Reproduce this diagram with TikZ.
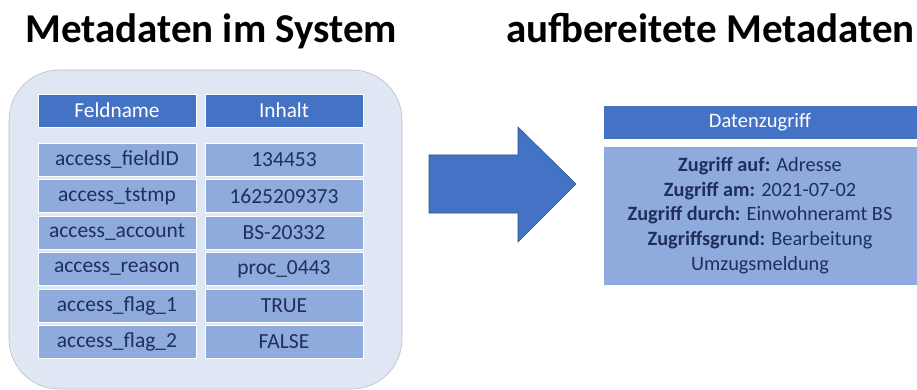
\documentclass[tikz,border=0pt]{standalone}
\usepackage{fontspec}
\setmainfont{Carlito}
\definecolor{hdrblue}{HTML}{4472C4}
\definecolor{cellblue}{HTML}{8FAADC}
\definecolor{panelblue}{HTML}{DEE7F3}
\definecolor{navytext}{HTML}{1F2F5C}
\definecolor{arrowedge}{HTML}{2F528F}
\tikzset{
  title/.style={anchor=base west, inner sep=0pt, font=\fontsize{41}{48}\selectfont\bfseries, text=black},
  hdrcell/.style={draw=white, line width=0.6pt, fill=hdrblue, minimum width=158pt, minimum height=33pt,
    inner sep=0pt, text=white, font=\fontsize{21.3}{25}\selectfont},
  datacell/.style={draw=white, line width=0.6pt, fill=cellblue, minimum width=158pt, minimum height=33pt,
    inner sep=0pt, text=navytext, font=\fontsize{21.5}{25}\selectfont},
  panel/.style={draw=black!25, line width=0.6pt, fill=panelblue, rounded corners=50pt},
  bigarrow/.style={draw=arrowedge, line width=0.6pt, fill=hdrblue},
}
\begin{document}
\begin{tikzpicture}[x=1pt,y=-1pt]
\useasboundingbox (0,0) rectangle (917,390);

% titles
\node[title] (t1) at (25,43) {Metadaten im System};
\node[title] (t2) at (506,43) {aufbereitete Metadaten};

% rounded panel holding the raw field table
\draw[panel] (9,70) rectangle (402,389);

% table header
\node[hdrcell] (h1) at (117,110.5) {Feldname};
\node[hdrcell] (h2) at (284,110.5) {Inhalt};

% table rows
\foreach \i/\name/\val in {0/access\_fieldID/134453, 1/access\_tstmp/1625209373,
    2/access\_account/BS-20332, 3/access\_reason/proc\_0443,
    4/access\_flag\_1/TRUE, 5/access\_flag\_2/FALSE}{
  \node[datacell] (f\i) at (117,{159.5+36.5*\i}) {\name};
  \node[datacell] (v\i) at (284,{159.5+36.5*\i}) {\val};
}

% block arrow
\draw[bigarrow] (429,155) -- (518,155) -- (518,127) -- (576,184) -- (518,242) -- (518,213) -- (429,213) -- cycle;

% processed record
\node[draw=white, line width=0.6pt, fill=hdrblue, minimum width=314pt, minimum height=34pt, inner sep=0pt,
  text=white, font=\fontsize{20.5}{24}\selectfont] (dh) at (760,122) {Datenzugriff};
\node[draw=white, line width=0.6pt, fill=cellblue, minimum width=314pt, minimum height=139pt, inner sep=0pt,
  text=navytext, align=center, font=\fontsize{20.3}{24.7}\selectfont] (db) at (760,215.5)
  {\textbf{Zugriff auf:} Adresse\\
   \textbf{Zugriff am:} 2021-07-02\\
   \textbf{Zugriff durch:} Einwohneramt BS\\
   \textbf{Zugriffsgrund:} Bearbeitung\\
   Umzugsmeldung};
\end{tikzpicture}
\end{document}
